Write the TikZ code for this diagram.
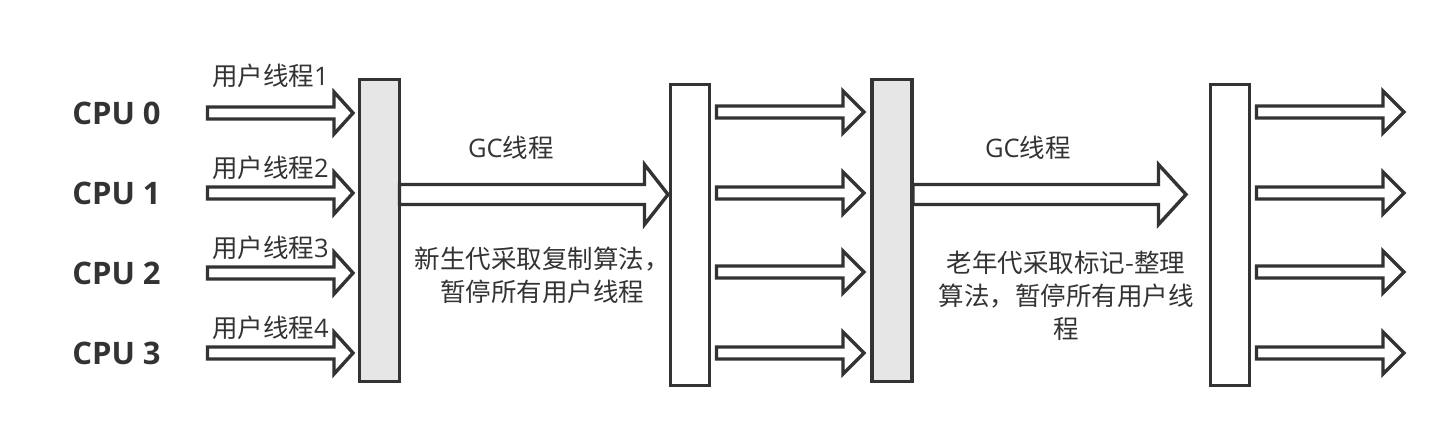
\documentclass[tikz,border=0pt]{standalone}
\usepackage{fontspec}
\setmainfont{Open Sans}
\newfontfamily\cjk{Noto Sans CJK SC}
\usetikzlibrary{calc}
\definecolor{ink}{HTML}{333333}
\definecolor{barfill}{HTML}{E6E6E6}
\newcommand\zh[1]{{\cjk #1}}
\newcommand\barrow[5]{%
  \draw[arr] let \p1=(#1), \p2=(#2) in
    (\x1,\y1+#3) -- (\x2-#5,\y1+#3) -- (\x2-#5,\y1+#4) -- (\x2,\y1)
    -- (\x2-#5,\y1-#4) -- (\x2-#5,\y1-#3) -- (\x1,\y1-#3) -- cycle;}
\begin{document}
\begin{tikzpicture}[x=1pt,y=-1pt,
  arr/.style={draw=ink,line width=3.4pt,fill=white,line join=miter},
  bargrey/.style={draw=ink,line width=3.4pt,fill=barfill,minimum width=40pt,minimum height=302pt,inner sep=0pt,outer sep=0pt},
  barwhite/.style={draw=ink,line width=3.4pt,fill=white,minimum width=39pt,minimum height=301pt,inner sep=0pt,outer sep=0pt},
  cpu/.style={font=\bfseries\fontsize{31}{36}\selectfont,text=ink,inner sep=0pt},
  lbl/.style={font=\fontsize{25.5}{33}\selectfont,text=ink,inner sep=0pt},
  note/.style={font=\cjk\fontsize{25.5}{33}\selectfont,text=ink,inner sep=0pt,align=center}]
\useasboundingbox (0,0) rectangle (1454,437);

% bars
\node[bargrey]  (b1) at (379.5,230.5) {};
\node[barwhite] (b2) at (690,235) {};
\node[bargrey]  (b3) at (892,230.5) {};
\node[barwhite] (b4) at (1230,235) {};

% CPU labels
\node[cpu] (c0) at (116.5,113) {CPU 0};
\node[cpu] (c1) at (116.5,193) {CPU 1};
\node[cpu] (c2) at (116.5,273) {CPU 2};
\node[cpu] (c3) at (116.5,353) {CPU 3};

% user thread labels
\node[lbl,anchor=west] (u0) at (212,76)  {\zh{用户线程}1};
\node[lbl,anchor=west] (u1) at (212,168) {\zh{用户线程}2};
\node[lbl,anchor=west] (u2) at (212,248) {\zh{用户线程}3};
\node[lbl,anchor=west] (u3) at (212,328) {\zh{用户线程}4};

% left arrows
\foreach \i/\y in {0/113,1/193,2/273,3/353}{
  \coordinate (ls\i) at (207.5,\y);
  \coordinate (lt\i) at (353,\y);
  \barrow{ls\i}{lt\i}{6pt}{21pt}{19pt}
}
% middle arrows
\foreach \i/\y in {0/112,1/193,2/272,3/353}{
  \coordinate (ms\i) at (716.5,\y);
  \coordinate (mt\i) at (864,\y);
  \barrow{ms\i}{mt\i}{6pt}{21pt}{21pt}
}
% right arrows
\foreach \i/\y in {0/112,1/193,2/272,3/353}{
  \coordinate (rs\i) at (1256.5,\y);
  \coordinate (rt\i) at (1404,\y);
  \barrow{rs\i}{rt\i}{6pt}{21pt}{21pt}
}

% GC arrows
\coordinate (g1s) at (399.5,194.5);
\coordinate (g1t) at (668,194.5);
\barrow{g1s}{g1t}{10pt}{30pt}{23.5pt}
\coordinate (g2s) at (913,194.5);
\coordinate (g2t) at (1186,194.5);
\barrow{g2s}{g2t}{10pt}{30pt}{27.5pt}

% GC labels
\node[lbl] (gc1) at (511,148) {GC\zh{线程}};
\node[lbl] (gc2) at (1028,148) {GC\zh{线程}};

% notes
\node[note] (n1) at (542,275) {新生代采取复制算法，\\暂停所有用户线程};
\node[note] (n2) at (1066,296) {老年代采取标记-整理\\算法，暂停所有用户线\\程};
\end{tikzpicture}
\end{document}
